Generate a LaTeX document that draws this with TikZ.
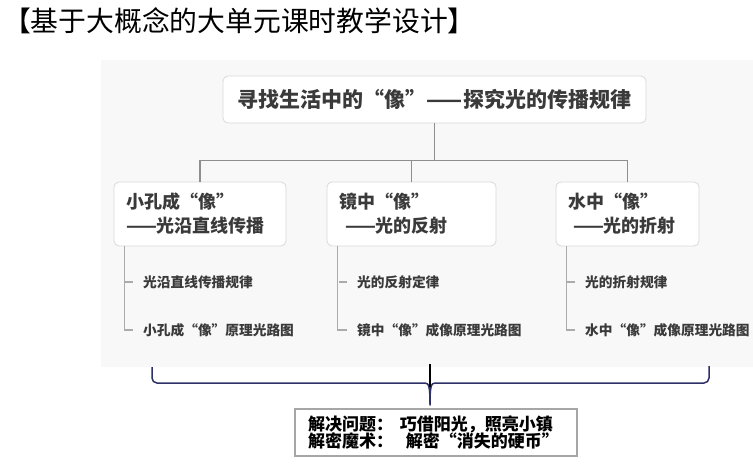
\documentclass[tikz,border=0pt]{standalone}
\usepackage{fontspec}
\setmainfont{Noto Sans CJK SC}
\usepackage{tikz}

\definecolor{bggray}{HTML}{F8F8F8}
\definecolor{boxline}{HTML}{D9D9D9}
\definecolor{textgray}{HTML}{3A3A3A}
\definecolor{conngray}{HTML}{8E8E8E}
\definecolor{twiggray}{HTML}{ABABAB}
\definecolor{notegray}{HTML}{A6A6A6}
\definecolor{bracenavy}{HTML}{2E3167}

\begin{document}
\begin{tikzpicture}[x=1pt,y=-1pt]
   \tikzstyle{every node}=[inner sep=0pt]
   \tikzstyle{topic}=[draw=boxline, fill=white, rounded corners=5pt, line width=0.8pt, text=textgray, font=\fontsize{21pt}{24pt}\selectfont\bfseries, minimum height=47pt]
   \tikzstyle{branch}=[topic, font=\fontsize{18pt}{24pt}\selectfont\bfseries, align=left, inner xsep=12pt, minimum height=64pt]
   \tikzstyle{leaf}=[anchor=west, text=textgray, font=\fontsize{13.7pt}{16pt}\selectfont\bfseries]
   \tikzstyle{conn}=[draw=conngray, line width=1.5pt]
   \tikzstyle{twig}=[draw=twiggray, line width=1.2pt]
   \tikzstyle{brace}=[draw=bracenavy, line width=1.5pt, line join=round]

   \useasboundingbox (0,0) rectangle (753,464);
   \fill[bggray] (101,60) rectangle (753,367);

   \node[anchor=west, font=\fontsize{27.8pt}{30pt}\selectfont] (title) at (3,21) {【基于大概念的大单元课时教学设计】};

   \node[topic, minimum width=423pt] (root) at (434.5,99.5) {寻找生活中的“像”——探究光的传播规律};

   \node[branch, text width=148pt] (pin) at (200,214) {小孔成“像”\\——光沿直线传播};
   \node[branch, text width=145pt] (mirror) at (411.5,214) {镜中“像”\\\hspace*{6pt}——光的反射};
   \node[branch, text width=119pt] (water) at (627.5,214) {水中“像”\\\hspace*{5pt}——光的折射};

   \draw[conn] (root.south) -- ++(0,37) coordinate (hub);
   \draw[conn] (pin.north) |- (hub) -| (water.north);
   \draw[conn] (mirror.north) -- (mirror.north |- hub);

   \node[leaf] (pin1) at (143,282) {光沿直线传播规律};
   \node[leaf] (pin2) at (143,330) {小孔成“像”原理光路图};
   \node[leaf] (mirror1) at (357,282) {光的反射定律};
   \node[leaf] (mirror2) at (357,330) {镜中“像”成像原理光路图};
   \node[leaf] (water1) at (585,282) {光的折射规律};
   \node[leaf] (water2) at (585,330) {水中“像”成像原理光路图};

   \foreach \b in {pin,mirror,water} {
      \draw[twig] ([xshift=11pt]\b.south west) |- ([xshift=-10pt]\b2.west);
      \draw[twig] ([xshift=-18pt]\b1.west) -- ++(8,0);
   }

   \draw[brace] (152,367) -- (152,378) to[out=-90,in=180] (157,383) -- (425,383) .. controls (429,383) and (430,387) .. (430,405) .. controls (430,387) and (431,383) .. (435,383) -- (704,383) to[out=0,in=-90] (709,378) -- (709,366);
   \draw[line width=1.6pt] (430,364) -- (430,387);

   \node[draw=notegray, line width=1.5pt, fill=white, minimum width=282pt, minimum height=47pt, text width=256pt, inner xsep=13pt, align=left, font=\fontsize{17pt}{17.5pt}\selectfont\bfseries] (note) at (436,432.5) {解决问题：\hspace{7pt}巧借阳光，照亮小镇\\解密魔术：\hspace{13pt}解密“消失的硬币”};
\end{tikzpicture}
\end{document}
